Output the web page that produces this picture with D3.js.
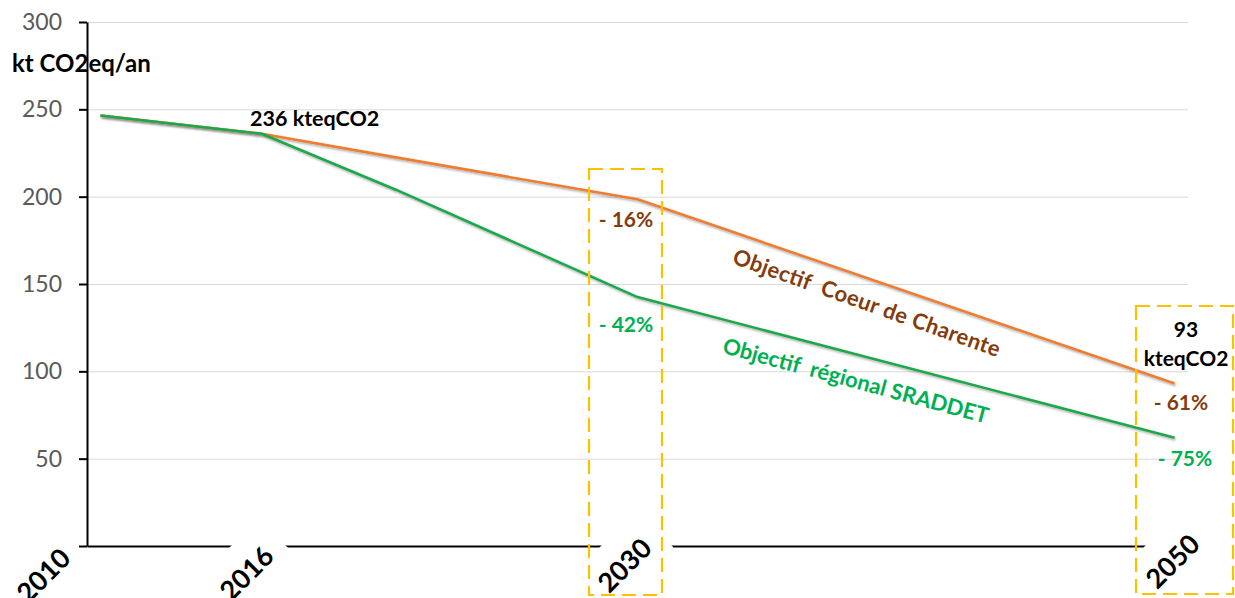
<!DOCTYPE html>
<html>
<head>
<meta charset="utf-8">
<script src="https://cdn.jsdelivr.net/npm/d3@7"></script>
<style>
  html, body { margin: 0; padding: 0; background: #fff; }
  svg { display: block; font-family: Lato, "Open Sans", sans-serif; }
</style>
</head>
<body>
<svg id="chart" width="1235" height="598"></svg>
<script>
// ---- data ----
const years = [2010, 2016, 2021, 2030, 2050];
const coeurDeCharente = [246.5, 236, 222.5, 198.5, 93];   // Objectif Coeur de Charente
const sraddet = [246.5, 236, 204, 142.5, 62];              // Objectif régional SRADDET
const xLabels = [2010, 2016, 2030, 2050];
const yTicks = [0, 50, 100, 150, 200, 250, 300];
const yTitle = "kt CO2eq/an";
const startLabel = "236 kteqCO2";
const endLabel = ["93", "kteqCO2"];
const pct2030 = ["- 16%", "- 42%"];
const pct2050 = ["- 61%", "- 75%"];
const seriesNames = ["Objectif  Coeur de Charente", "Objectif  régional SRADDET"];

// ---- layout ----
const plot = { left: 87, right: 1188, top: 22, bottom: 546 };
const brown = "#843C0C", green = "#00B050";
const orangeLine = "#ED7D31", greenLine = "#1FA84A";

const svg = d3.select("#chart");

const x = d3.scaleLinear().domain([2009.5, 2050.5]).range([plot.left, plot.right]);
const y = d3.scaleLinear().domain([0, 300]).range([plot.bottom, plot.top]);

const defs = svg.append("defs");
const f = defs.append("filter").attr("id", "shadow").attr("x", "-5%").attr("y", "-5%").attr("width", "110%").attr("height", "120%");
f.append("feDropShadow").attr("dx", 1).attr("dy", 1.5).attr("stdDeviation", 1).attr("flood-color", "#000").attr("flood-opacity", 0.35);

// gridlines
svg.append("g")
  .attr("transform", `translate(${plot.left},0)`)
  .call(d3.axisLeft(y).tickValues(yTicks.filter(d => d > 0)).tickSize(-(plot.right - plot.left)).tickFormat(""))
  .call(g => g.select(".domain").remove())
  .call(g => g.selectAll("line").attr("stroke", "#d9d9d9").attr("stroke-width", 1));

// lines
const line = d3.line()
  .x((d, i) => x(years[i]))
  .y(d => y(d))
  .curve(d3.curveLinear);

svg.append("path").datum(coeurDeCharente)
  .attr("d", line).attr("fill", "none").attr("stroke", orangeLine)
  .attr("stroke-width", 2.6).attr("stroke-linejoin", "round").attr("filter", "url(#shadow)");
svg.append("path").datum(sraddet)
  .attr("d", line).attr("fill", "none").attr("stroke", greenLine)
  .attr("stroke-width", 2.6).attr("stroke-linejoin", "round").attr("filter", "url(#shadow)");

// x axis
const xAxis = svg.append("g")
  .attr("transform", `translate(0,${plot.bottom})`)
  .call(d3.axisBottom(x).tickValues(xLabels).tickSize(0).tickSizeOuter(0).tickFormat(""));
xAxis.select(".domain").attr("stroke", "#000").attr("stroke-width", 2);

// x labels (rotated, white boxes)
const labelOffset = { 2010: [-28, 14], 2016: [14, 12], 2030: [16, 4], 2050: [27, 0] };
const xl = svg.append("g");
xLabels.forEach(yr => {
  const [dx, dy] = labelOffset[yr];
  const g = xl.append("g")
    .attr("transform", `translate(${x(yr) + dx},${plot.bottom + dy}) rotate(-45)`);
  const r = g.append("rect").attr("fill", "#fff");
  const t = g.append("text").text(yr)
    .attr("text-anchor", "end")
    .attr("font-size", 27).attr("font-weight", 700).attr("fill", "#000");
  const L = t.node().getComputedTextLength();
  r.attr("x", -L - 14).attr("y", -40).attr("width", L + 30).attr("height", 52);
});

// y axis
const yAxis = svg.append("g")
  .attr("transform", `translate(${plot.left},0)`)
  .call(d3.axisLeft(y).tickValues(yTicks).tickSize(8).tickSizeOuter(0).tickPadding(17)
    .tickFormat(d => d === 0 ? "" : d));
yAxis.select(".domain").attr("stroke", "#000").attr("stroke-width", 2);
yAxis.selectAll(".tick line").attr("stroke", "#000").attr("stroke-width", 2);
yAxis.selectAll(".tick text").attr("font-size", 23).attr("fill", "#595959")
  .attr("font-family", "Lato, sans-serif");

// y title
svg.append("text").attr("x", 12).attr("y", 72).text(yTitle)
  .attr("font-size", 24).attr("font-weight", 700).attr("fill", "#000");

// dashed highlight boxes
const boxes = [
  { x0: 589, x1: 662, y0: 169, y1: 595 },
  { x0: 1136, x1: 1233, y0: 306, y1: 594 }
];
svg.append("g").selectAll("rect").data(boxes).join("rect")
  .attr("x", d => d.x0).attr("y", d => d.y0)
  .attr("width", d => d.x1 - d.x0).attr("height", d => d.y1 - d.y0)
  .attr("fill", "none").attr("stroke", "#FFC000").attr("stroke-width", 2.2)
  .attr("stroke-dasharray", "14,7");

// annotations
const ann = svg.append("g").attr("font-weight", 700);
ann.append("text").attr("x", 250).attr("y", 126).text(startLabel)
  .attr("font-size", 21.5).attr("fill", "#000");
ann.append("text").attr("x", 626).attr("y", 227).attr("text-anchor", "middle").text(pct2030[0])
  .attr("font-size", 21).attr("fill", brown);
ann.append("text").attr("x", 626).attr("y", 332).attr("text-anchor", "middle").text(pct2030[1])
  .attr("font-size", 21).attr("fill", green);
ann.append("text").attr("x", 1186).attr("y", 337).attr("text-anchor", "middle").text(endLabel[0])
  .attr("font-size", 21).attr("fill", "#000");
ann.append("text").attr("x", 1186).attr("y", 366).attr("text-anchor", "middle").text(endLabel[1])
  .attr("font-size", 21).attr("fill", "#000");
ann.append("text").attr("x", 1181).attr("y", 410).attr("text-anchor", "middle").text(pct2050[0])
  .attr("font-size", 21).attr("fill", brown);
ann.append("text").attr("x", 1185).attr("y", 466).attr("text-anchor", "middle").text(pct2050[1])
  .attr("font-size", 21).attr("fill", green);

ann.append("text")
  .attr("transform", "translate(867,302) rotate(19.5)")
  .attr("text-anchor", "middle").attr("dominant-baseline", "central")
  .attr("font-size", 22).attr("fill", brown)
  .style("white-space", "pre")
  .attr("textLength", 282).attr("lengthAdjust", "spacing")
  .text(seriesNames[0]);
ann.append("text")
  .attr("transform", "translate(856,380) rotate(15)")
  .attr("text-anchor", "middle").attr("dominant-baseline", "central")
  .attr("font-size", 22).attr("fill", green)
  .style("white-space", "pre")
  .attr("textLength", 274).attr("lengthAdjust", "spacing")
  .text(seriesNames[1]);
</script>
</body>
</html>
